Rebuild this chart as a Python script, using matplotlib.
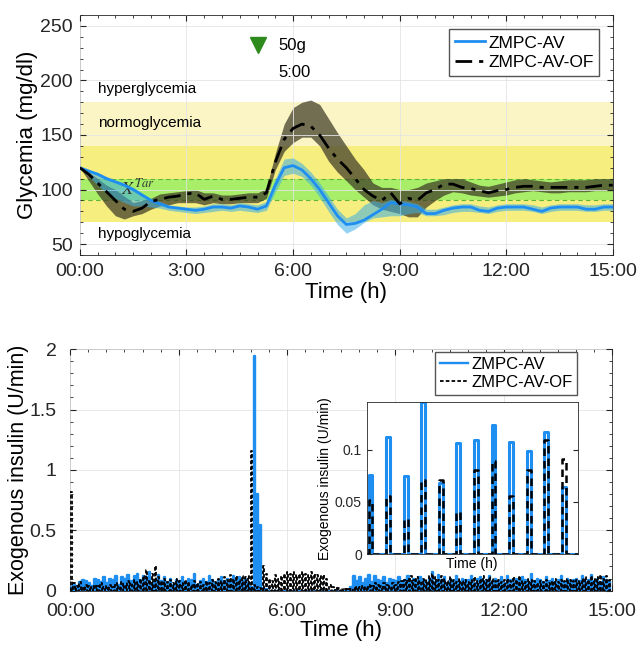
import numpy as np
import matplotlib
matplotlib.use("Agg")
import matplotlib.pyplot as plt
from matplotlib.ticker import MultipleLocator

plt.rcParams['font.family'] = ['Liberation Sans', 'DejaVu Sans']
plt.rcParams['mathtext.fontset'] = 'stix'

# ---- data ----
# glycemia, every 15 min from 0 to 15 h
glu_t = np.arange(61) * 0.25
av_mean = [120, 117, 114, 110, 107, 104, 100, 95, 90, 87, 84, 83, 82, 81, 82, 84,
           84, 83, 85, 84, 82, 85, 104, 120, 122, 118, 110, 100, 88, 76, 68, 69,
           72, 77, 82, 88, 87, 86, 84, 78, 78, 81, 83, 84, 84, 81, 80, 83,
           84, 84, 84, 82, 80, 83, 84, 84, 84, 82, 82, 84, 84]
av_lo = [120, 112, 104, 97, 92, 88, 85, 85, 84, 83, 81, 80, 79, 78, 79, 80,
         81, 80, 81, 80, 79, 81, 98, 113, 115, 112, 104, 93, 80, 68, 60, 64,
         70, 74, 75, 76, 76, 78, 79, 76, 76, 77, 79, 80, 80, 79, 78, 80,
         81, 81, 81, 80, 78, 80, 81, 81, 81, 80, 80, 81, 81]
av_hi = [120, 118, 116, 112, 109, 106, 102, 97, 92, 89, 86, 85, 84, 84, 85, 87,
         87, 86, 88, 87, 86, 89, 110, 128, 129, 124, 116, 106, 94, 82, 74, 78,
         86, 90, 88, 91, 90, 89, 87, 82, 82, 84, 86, 87, 87, 85, 84, 86,
         87, 87, 87, 86, 84, 86, 87, 87, 87, 86, 86, 87, 87]
of_mean = [120, 114, 106, 98, 90, 82, 80, 83, 89, 91, 93, 94, 96, 97, 91, 94,
           91, 91, 92, 93, 93, 97, 125, 146, 156, 160, 158, 150, 138, 128, 120, 110,
           100, 94, 90, 97, 87, 92, 90, 97, 100, 105, 105, 102, 101, 99, 97, 99,
           100, 102, 103, 103, 102, 102, 102, 102, 102, 102, 103, 104, 104]
of_lo = [120, 108, 96, 85, 76, 73, 76, 78, 82, 85, 86, 88, 88, 88, 86, 88,
         87, 87, 88, 88, 88, 92, 118, 135, 143, 148, 148, 140, 126, 116, 108, 100,
         93, 86, 82, 80, 78, 75, 75, 84, 90, 95, 98, 97, 95, 94, 93, 94,
         95, 97, 98, 99, 98, 97, 97, 98, 98, 98, 99, 99, 99]
of_hi = [120, 116, 110, 104, 100, 94, 88, 90, 92, 96, 97, 98, 99, 100, 97, 97,
         95, 95, 96, 97, 97, 101, 133, 160, 175, 180, 182, 178, 165, 152, 140, 128,
         118, 106, 102, 102, 100, 100, 102, 106, 108, 110, 110, 110, 107, 104, 103, 105,
         107, 109, 110, 109, 108, 107, 108, 109, 109, 109, 110, 110, 110]

# exogenous insulin, every 5 min (one row per hour)
ins_av = [
    0.03, 0.05, 0.04, 0.07, 0.09, 0.08, 0.06, 0.04, 0.10, 0.09, 0.07, 0.11,
    0.06, 0.10, 0.09, 0.12, 0.05, 0.11, 0.10, 0.13, 0.08, 0.12, 0.14, 0.09,
    0.12, 0.11, 0.15, 0.06, 0.09, 0.13, 0.08, 0.11, 0.07, 0.10, 0.05, 0.09,
    0.08, 0.11, 0.06, 0.10, 0.09, 0.14, 0.05, 0.08, 0.10, 0.07, 0.12, 0.09,
    0.06, 0.09, 0.11, 0.08, 0.10, 0.07, 0.12, 0.09, 0.11, 0.08, 0.10, 0.06,
    0.03, 1.94, 0.80, 0.54, 0.02, 0.01, 0.00, 0.00, 0.00, 0.00, 0.00, 0.00,
    0.00, 0.00, 0.00, 0.00, 0.00, 0.00, 0.00, 0.00, 0.00, 0.00, 0.00, 0.00,
    0.00, 0.00, 0.00, 0.00, 0.00, 0.00, 0.00, 0.00, 0.00, 0.03, 0.12, 0.08,
    0.11, 0.06, 0.10, 0.13, 0.07, 0.12, 0.09, 0.08, 0.11, 0.06, 0.10, 0.09,
    0.08, 0.11, 0.06, 0.09, 0.12, 0.07, 0.10, 0.08, 0.11, 0.09, 0.06, 0.10,
    0.15, 0.07, 0.13, 0.09, 0.11, 0.06, 0.10, 0.08, 0.12, 0.07, 0.10, 0.09,
    0.09, 0.12, 0.06, 0.10, 0.11, 0.08, 0.09, 0.12, 0.07, 0.10, 0.08, 0.11,
    0.06, 0.12, 0.09, 0.07, 0.10, 0.08, 0.11, 0.09, 0.07, 0.14, 0.08, 0.10,
    0.09, 0.07, 0.11, 0.08, 0.10, 0.06, 0.09, 0.12, 0.07, 0.10, 0.08, 0.09,
    0.10, 0.08, 0.12, 0.07, 0.09, 0.13, 0.08, 0.10, 0.07, 0.11, 0.09, 0.08,
]
ins_of = [
    0.82, 0.06, 0.04, 0.07, 0.03, 0.05, 0.04, 0.03, 0.05, 0.04, 0.06, 0.03,
    0.04, 0.05, 0.03, 0.06, 0.04, 0.07, 0.05, 0.08, 0.06, 0.09, 0.07, 0.10,
    0.12, 0.17, 0.09, 0.14, 0.20, 0.11, 0.08, 0.10, 0.07, 0.09, 0.06, 0.10,
    0.08, 0.06, 0.09, 0.07, 0.05, 0.08, 0.06, 0.07, 0.05, 0.08, 0.06, 0.09,
    0.07, 0.10, 0.08, 0.11, 0.09, 0.13, 0.10, 0.12, 0.09, 0.12, 0.11, 0.12,
    1.16, 0.05, 0.03, 0.02, 0.20, 0.14, 0.10, 0.08, 0.13, 0.10, 0.12, 0.14,
    0.15, 0.14, 0.15, 0.13, 0.14, 0.15, 0.14, 0.13, 0.15, 0.14, 0.13, 0.12,
    0.13, 0.10, 0.05, 0.03, 0.02, 0.02, 0.01, 0.01, 0.01, 0.01, 0.02, 0.03,
    0.03, 0.04, 0.03, 0.05, 0.04, 0.06, 0.05, 0.04, 0.06, 0.05, 0.04, 0.06,
    0.05, 0.07, 0.08, 0.09, 0.10, 0.12, 0.09, 0.11, 0.08, 0.10, 0.09, 0.12,
    0.14, 0.11, 0.09, 0.12, 0.10, 0.08, 0.11, 0.09, 0.07, 0.10, 0.08, 0.09,
    0.07, 0.09, 0.11, 0.08, 0.10, 0.12, 0.09, 0.11, 0.10, 0.08, 0.09, 0.07,
    0.09, 0.10, 0.08, 0.11, 0.09, 0.12, 0.08, 0.07, 0.10, 0.09, 0.08, 0.06,
    0.08, 0.07, 0.09, 0.06, 0.08, 0.10, 0.07, 0.09, 0.08, 0.10, 0.09, 0.08,
    0.09, 0.08, 0.10, 0.11, 0.09, 0.12, 0.10, 0.11, 0.13, 0.10, 0.12, 0.09,
]
ins_t = np.arange(180) * 5 / 60.0

# zoomed hour of insulin pulses (inset)
zoom_av = [0.076, 0.112, 0.075, 0.145, 0.068, 0.106, 0.109, 0.123, 0.107, 0.099, 0.117, 0.064]
zoom_of = [0.052, 0.056, 0.034, 0.071, 0.071, 0.040, 0.080, 0.089, 0.056, 0.080, 0.109, 0.091]
zoom_t = np.arange(12) * 5 + 0.5

tick_pos = [0, 3, 6, 9, 12, 15]
tick_lab = ['00:00', '3:00', '6:00', '9:00', '12:00', '15:00']

BLUE = '#1f8ef1'


def pulses(t, v, width):
    # stairs outline of rectangular pulses returning to zero
    xs, ys = [], []
    for ti, vi in zip(t, v):
        xs += [ti, ti, ti + width, ti + width]
        ys += [0, vi, vi, 0]
    return np.array(xs), np.array(ys)


def style_axes(ax, xpad=6, ypad=5):
    ax.tick_params(direction='in', which='both', top=True, right=True,
                   colors='#262626', labelsize=14)
    ax.tick_params(axis='x', which='major', pad=xpad)
    ax.tick_params(axis='y', which='major', pad=ypad)
    ax.tick_params(which='minor', length=2)
    ax.tick_params(which='major', length=4)
    for s in ax.spines.values():
        s.set_color('#262626')
        s.set_linewidth(0.6)
    ax.grid(True, which='major', color='#e4e4e4', linewidth=0.6)
    ax.set_axisbelow(False)


fig = plt.figure(figsize=(6.39, 6.49), dpi=100)

# ---- top: glycemia ----
ax1 = fig.add_axes([0.125, 0.607, 0.834, 0.370])
ax1.axhspan(70, 140, color='#f7ee80', zorder=0, lw=0)
ax1.axhspan(140, 180, color='#fbf5c6', zorder=0, lw=0)
ax1.axhspan(90, 110, color='#a9ee68', zorder=0, lw=0)
for yv in (90, 110):
    ax1.axhline(yv, color='#5fb536', lw=0.8, ls=(0, (4, 3)), zorder=1)

ax1.fill_between(glu_t, of_lo, of_hi, color='#3d3a26', alpha=0.72, lw=0, zorder=2)
ax1.fill_between(glu_t, av_lo, av_hi, color='#3aaee6', alpha=0.55, lw=0, zorder=3)
ax1.plot(glu_t, av_mean, color=BLUE, lw=2, zorder=4, label='ZMPC-AV')
ax1.plot(glu_t, of_mean, color='k', lw=2, dashes=(6, 2.5, 1.5, 2.5), zorder=5,
         label='ZMPC-AV-OF')

ax1.text(0.5, 192, 'hyperglycemia', fontsize=11, va='center')
ax1.text(0.5, 161, 'normoglycemia', fontsize=11, va='center')
ax1.text(0.5, 59, 'hypoglycemia', fontsize=11, va='center')
ax1.text(1.15, 101, r'$X^{Tar}$', fontsize=13, color='#333333', va='center')
ax1.plot([5.0], [232], marker='v', color='#2e8a1c', markersize=11, ls='none')
ax1.text(5.6, 232, '50g', fontsize=12, va='center')
ax1.text(5.6, 207, '5:00', fontsize=12, va='center')

ax1.set_xlim(0, 15)
ax1.set_ylim(40, 260)
ax1.set_xticks(tick_pos)
ax1.set_xticklabels(tick_lab)
ax1.set_yticks([50, 100, 150, 200, 250])
ax1.xaxis.set_minor_locator(MultipleLocator(0.5))
ax1.yaxis.set_minor_locator(MultipleLocator(10))
style_axes(ax1)
ax1.set_xlabel('Time (h)', fontsize=16, labelpad=1)
ax1.set_ylabel('Glycemia (mg/dl)', fontsize=16, labelpad=2)
ax1.legend(loc='upper right', bbox_to_anchor=(0.975, 0.94), fontsize=12.5,
           handlelength=1.7, handletextpad=0.2, borderpad=0.35,
           labelspacing=0.25, borderaxespad=0, fancybox=False,
           edgecolor='#555555', framealpha=1)

# ---- bottom: exogenous insulin ----
ax2 = fig.add_axes([0.110, 0.090, 0.848, 0.372])
bx, by = pulses(ins_t, ins_av, 2.2 / 60)
ox, oy = pulses(ins_t, ins_of, 2.2 / 60)
ax2.plot(bx, by, color=BLUE, lw=1.7, label='ZMPC-AV', zorder=3)
ax2.plot(ox, oy, color='k', lw=1.3, ls=(0, (2, 1.2)), label='ZMPC-AV-OF', zorder=4)
ax2.set_xlim(0, 15)
ax2.set_ylim(0, 2)
ax2.set_xticks(tick_pos)
ax2.set_xticklabels(tick_lab)
ax2.set_yticks([0, 0.5, 1, 1.5, 2])
ax2.set_yticklabels(['0', '0.5', '1', '1.5', '2'])
ax2.xaxis.set_minor_locator(MultipleLocator(0.5))
ax2.yaxis.set_minor_locator(MultipleLocator(0.1))
style_axes(ax2, xpad=9, ypad=10)
ax2.set_xlabel('Time (h)', fontsize=16, labelpad=0)
ax2.set_ylabel('Exogenous insulin (U/min)', fontsize=15.5, labelpad=0)
ax2.legend(loc='upper right', bbox_to_anchor=(0.936, 0.99), fontsize=12,
           handlelength=1.7, handletextpad=0.2, borderpad=0.3,
           labelspacing=0.2, borderaxespad=0, fancybox=False,
           edgecolor='#555555', framealpha=1)

# ---- inset ----
ax3 = fig.add_axes([0.574, 0.146, 0.330, 0.234])
zx, zy = pulses(zoom_t, zoom_av, 1.1)
zx2, zy2 = pulses(zoom_t, zoom_of, 1.1)
zx = np.concatenate([[0], zx, [60]])
zy = np.concatenate([[0], zy, [0]])
zx2 = np.concatenate([[0], zx2, [60]])
zy2 = np.concatenate([[0], zy2, [0]])
ax3.plot(zx, zy, color=BLUE, lw=2.2)
ax3.plot(zx2, zy2, color='k', lw=1.8, ls=(0, (3, 2)))
ax3.set_xlim(0, 60)
ax3.set_ylim(0, 0.145)
ax3.set_xticks([])
ax3.set_yticks([0, 0.05, 0.1])
ax3.set_yticklabels(['0', '0.05', '0.1'])
ax3.tick_params(direction='in', right=True, labelsize=10, colors='#262626')
for s in ax3.spines.values():
    s.set_color('#262626')
    s.set_linewidth(0.6)
ax3.set_xlabel('Time (h)', fontsize=10, labelpad=2)
ax3.set_ylabel('Exogenous insulin (U/min)', fontsize=10, labelpad=2)

fig.savefig('out.png', dpi=100)
